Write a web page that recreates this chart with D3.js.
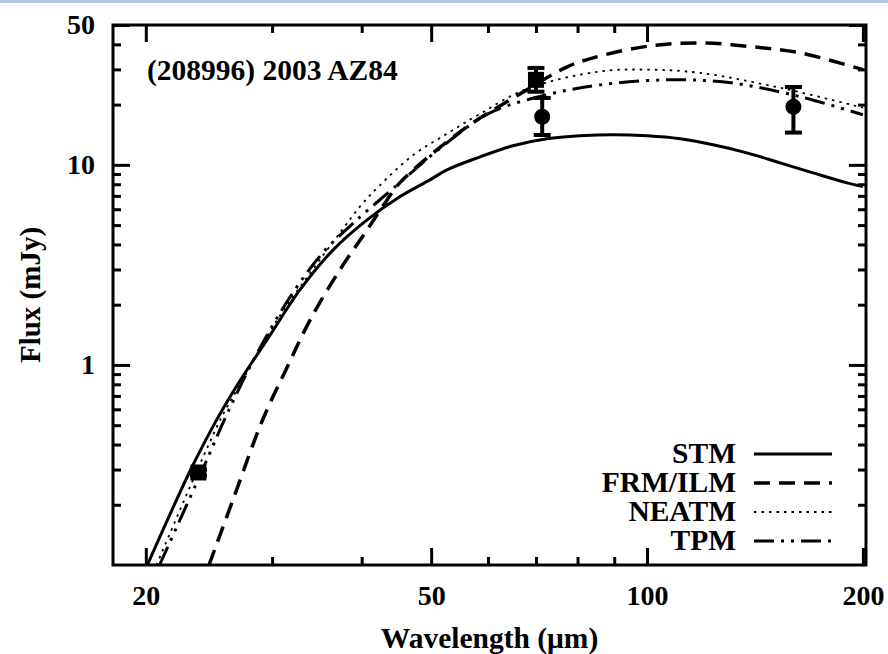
<!DOCTYPE html>
<html>
<head>
<meta charset="utf-8">
<script src="https://cdn.jsdelivr.net/npm/d3@7"></script>
<style>
  body { margin: 0; background: #fff; }
  svg { display: block; }
  text { font-family: "Liberation Serif", "Times New Roman", serif; font-weight: bold; fill: #000; }
</style>
</head>
<body>
<div id="chart"></div>
<script>
// model curves (wavelength in micron, flux in mJy)
var stmWave = [20.1, 23.0, 24.8, 26.0, 27.1, 29.5, 32.8, 36.5, 40.7, 45.2, 49.8, 52.6, 58.5, 65.0, 72.5, 80.6, 89.7, 100, 111.2, 123.6, 137.8, 153.3, 170.4, 190.1, 200];
var stmFlux = [0.1, 0.29, 0.49, 0.66, 0.841, 1.33, 2.37, 3.76, 5.31, 6.92, 8.41, 9.44, 10.96, 12.45, 13.49, 13.96, 14.13, 13.96, 13.49, 12.59, 11.48, 10.23, 9.12, 8.13, 7.8];

var frmWave = [24.5, 26.5, 29.1, 31.5, 33.9, 37.3, 40.7, 43.4, 45.2, 55.4, 68.0, 77.4, 86.0, 101, 118.6, 139.3, 163.5, 200];
var frmFlux = [0.1, 0.215, 0.531, 0.977, 1.68, 2.99, 4.73, 6.68, 8.13, 15.0, 23.7, 30.9, 35.0, 39.3, 40.7, 39.0, 36.3, 29.9];

var neatmWave = [20.7, 25.4, 27.3, 30.5, 33.9, 37.3, 39.8, 42.4, 47.2, 52.6, 58.5, 68.0, 86.0, 101, 118.6, 154.8, 200];
var neatmFlux = [0.1, 0.531, 0.841, 1.68, 2.88, 4.57, 6.2, 7.9, 11.2, 14.3, 18.0, 24.0, 29.3, 29.9, 28.8, 24.1, 19.3];

var tpmWave = [20.9, 24.0, 26.0, 28.6, 31.8, 35.3, 38.9, 44.2, 52.6, 60.4, 72.5, 86.0, 107, 131, 163.5, 200];
var tpmFlux = [0.1, 0.30, 0.575, 1.148, 2.19, 3.63, 5.1, 7.6, 12.9, 18.2, 22.4, 25.1, 26.6, 25.7, 21.9, 17.8];

// observations
var obsWave = [23.68, 70.0, 71.42, 160.0];
var obsFlux = [0.29, 26.6, 17.4, 19.5];
var obsLow  = [0.28, 23.2, 14.1, 14.5];
var obsHigh = [0.30, 30.5, 21.6, 24.5];
var obsShape = ['square', 'square', 'circle', 'circle'];

var xMajor = [20, 50, 100, 200];
var xMinor = [30, 40, 60, 70, 80, 90];
var yMajor = [1, 10, 50];
var yMinor = [0.2, 0.3, 0.4, 0.5, 0.6, 0.7, 0.8, 0.9, 2, 3, 4, 5, 6, 7, 8, 9, 20, 30, 40];

var modelNames = ['STM', 'FRM/ILM', 'NEATM', 'TPM'];
var modelDash = [null, '16,9', '2.5,5', '20,7,3,7,3,7'];
var modelWidth = [3, 3.5, 1.8, 3];

var W = 888, H = 654;
var margin = {top: 25, left: 113, right: 22, bottom: 89};
var w = W - margin.left - margin.right;
var h = H - margin.top - margin.bottom;

var svg = d3.select('#chart').append('svg')
  .attr('width', W)
  .attr('height', H);

// light blue strip along the top edge
svg.append('rect')
  .attr('x', 0).attr('y', 0)
  .attr('width', W).attr('height', 3)
  .style('fill', '#b4c7e7');

var g = svg.append('g').attr('transform', 'translate(' + margin.left + ',' + margin.top + ')');

var x = d3.scaleLog().domain([18, 202]).range([0, w]);
var y = d3.scaleLog().domain([0.1, 50]).range([h, 0]);

g.append('clipPath').attr('id', 'plotclip')
  .append('rect').attr('width', w).attr('height', h);

/*
  ticks, all pointing inwards
*/
var styleAxis = function(sel) {
  sel.select('.domain').remove();
  sel.selectAll('.tick line').style('stroke', '#000').style('stroke-width', 3);
  sel.selectAll('.tick text').style('font-size', '28px');
};

g.append('g').attr('transform', 'translate(0,' + h + ')')
  .call(d3.axisBottom(x).tickValues(xMajor).tickSize(-17).tickPadding(20).tickFormat(d3.format('d')))
  .call(styleAxis);
g.append('g').attr('transform', 'translate(0,' + h + ')')
  .call(d3.axisBottom(x).tickValues(xMinor).tickSize(-8).tickFormat(''))
  .call(styleAxis);
g.append('g')
  .call(d3.axisTop(x).tickValues(xMajor).tickSize(-17).tickFormat(''))
  .call(styleAxis);
g.append('g')
  .call(d3.axisTop(x).tickValues(xMinor).tickSize(-8).tickFormat(''))
  .call(styleAxis);

g.append('g')
  .call(d3.axisLeft(y).tickValues(yMajor).tickSize(-17).tickPadding(18).tickFormat(d3.format('d')))
  .call(styleAxis);
g.append('g')
  .call(d3.axisLeft(y).tickValues(yMinor).tickSize(-8).tickFormat(''))
  .call(styleAxis);
g.append('g').attr('transform', 'translate(' + w + ',0)')
  .call(d3.axisRight(y).tickValues(yMajor).tickSize(-17).tickFormat(''))
  .call(styleAxis);
g.append('g').attr('transform', 'translate(' + w + ',0)')
  .call(d3.axisRight(y).tickValues(yMinor).tickSize(-8).tickFormat(''))
  .call(styleAxis);

// frame
g.append('rect')
  .attr('width', w).attr('height', h)
  .style('fill', 'none')
  .style('stroke', '#000')
  .style('stroke-width', 3);

/*
  model curves
*/
var line = d3.line()
  .x(function(d) { return x(d[0]); })
  .y(function(d) { return y(d[1]); })
  .curve(d3.curveCatmullRom.alpha(0.5));

var models = [
  d3.zip(stmWave, stmFlux),
  d3.zip(frmWave, frmFlux),
  d3.zip(neatmWave, neatmFlux),
  d3.zip(tpmWave, tpmFlux)
];

var curves = g.append('g').attr('clip-path', 'url(#plotclip)');
models.forEach(function(m, i) {
  curves.append('path')
    .attr('d', line(m))
    .style('fill', 'none')
    .style('stroke', '#000')
    .style('stroke-width', modelWidth[i])
    .style('stroke-dasharray', modelDash[i]);
});

/*
  data points with error bars
*/
var capW = 17;
var pts = g.append('g');
obsWave.forEach(function(wl, i) {
  var cx = x(wl);
  pts.append('line')
    .attr('x1', cx).attr('x2', cx)
    .attr('y1', y(obsLow[i])).attr('y2', y(obsHigh[i]))
    .style('stroke', '#000').style('stroke-width', 4);
  [obsLow[i], obsHigh[i]].forEach(function(v) {
    pts.append('line')
      .attr('x1', cx - capW / 2).attr('x2', cx + capW / 2)
      .attr('y1', y(v)).attr('y2', y(v))
      .style('stroke', '#000').style('stroke-width', 4);
  });
  if (obsShape[i] === 'square') {
    pts.append('rect')
      .attr('x', cx - 8).attr('y', y(obsFlux[i]) - 8)
      .attr('width', 16).attr('height', 16)
      .style('fill', '#000');
  } else {
    pts.append('circle')
      .attr('cx', cx).attr('cy', y(obsFlux[i]))
      .attr('r', 8)
      .style('fill', '#000');
  }
});

// object name
g.append('text')
  .attr('x', 34).attr('y', 55)
  .style('font-size', '29.5px')
  .text('(208996) 2003 AZ84');

/*
  legend
*/
var leg = g.append('g');
modelNames.forEach(function(name, i) {
  var ty = 438 + i * 29;
  leg.append('text')
    .attr('x', 623).attr('y', ty)
    .attr('text-anchor', 'end')
    .style('font-size', '29.5px')
    .text(name);
  leg.append('line')
    .attr('x1', 641).attr('x2', 719)
    .attr('y1', ty - 9).attr('y2', ty - 9)
    .style('stroke', '#000')
    .style('stroke-width', modelWidth[i])
    .style('stroke-dasharray', modelDash[i]);
});

// axis titles
g.append('text')
  .attr('x', w / 2).attr('y', h + 83)
  .attr('text-anchor', 'middle')
  .style('font-size', '29.5px')
  .text('Wavelength (\u03bcm)');

g.append('text')
  .attr('transform', 'translate(' + (-73) + ',' + (h / 2) + ') rotate(-90)')
  .attr('text-anchor', 'middle')
  .style('font-size', '29px')
  .text('Flux (mJy)');
</script>
</body>
</html>
